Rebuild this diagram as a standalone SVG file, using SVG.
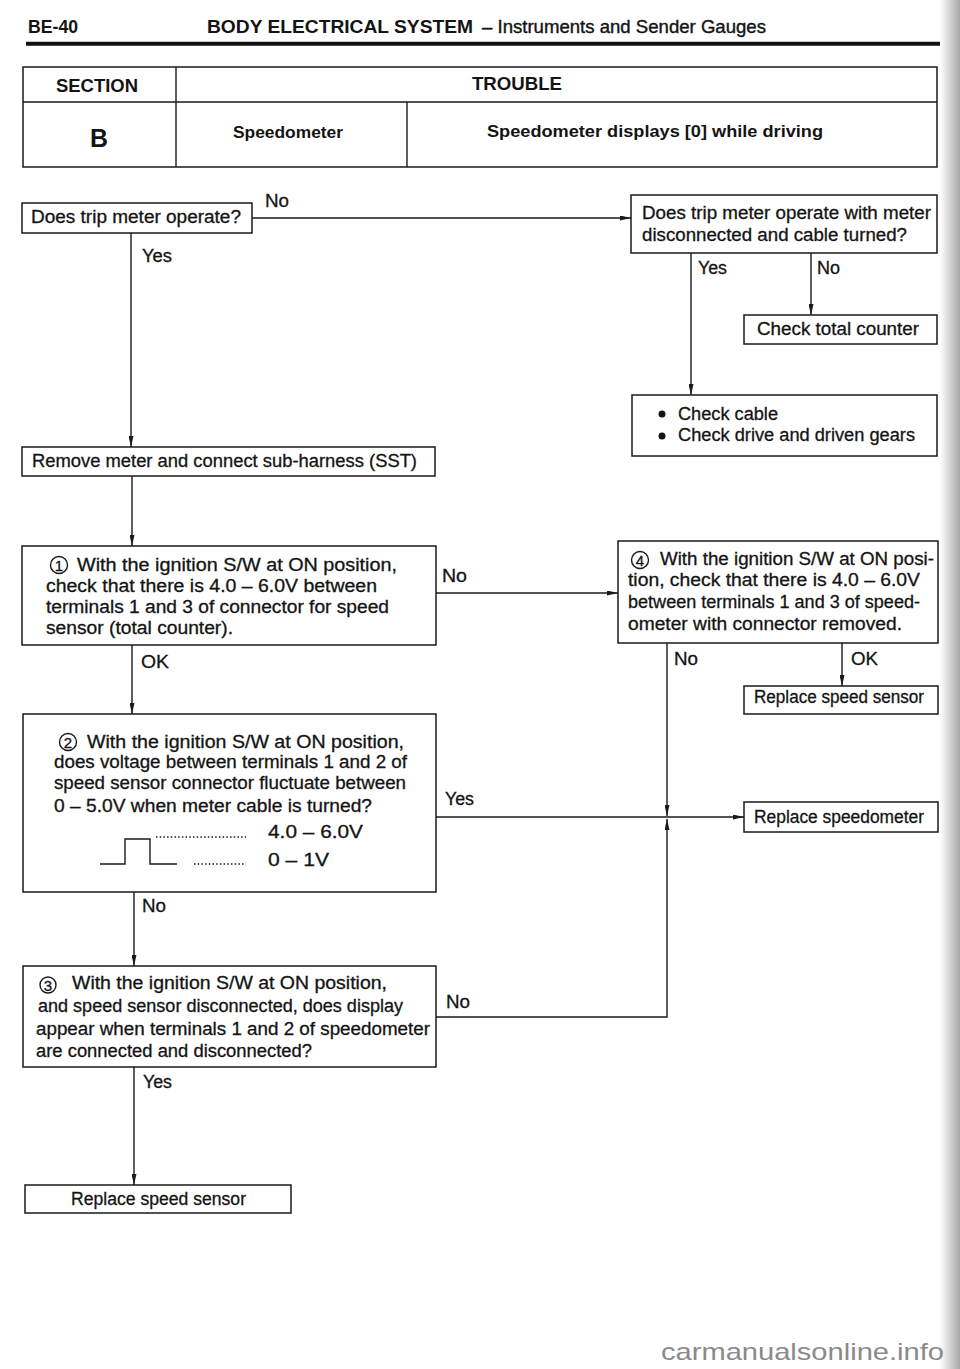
<svg xmlns="http://www.w3.org/2000/svg" width="960" height="1369" viewBox="0 0 960 1369">
<style>
text{font-family:"Liberation Sans",Arial,sans-serif;fill:#141414}
.b{font-size:18px;stroke:#141414;stroke-width:0.3}
.lb{font-size:18px;stroke:#141414;stroke-width:0.3}
.h{font-size:19px;font-weight:bold}
.t{font-size:16px;font-weight:bold}
.box{fill:#fff;stroke:#1a1a1a;stroke-width:1.5}
.cn{fill:none;stroke:#1a1a1a;stroke-width:1.4}
.circ{fill:none;stroke:#1a1a1a;stroke-width:1.4}
.num{font-size:15px;text-anchor:middle;stroke:#141414;stroke-width:0.3}
.dot{stroke:#1a1a1a;stroke-width:1.6;stroke-dasharray:1.5 2.2;fill:none}
</style>
<defs>
<marker id="ah" markerUnits="userSpaceOnUse" markerWidth="11" markerHeight="5" refX="11" refY="2.5" orient="auto">
<path d="M0,0 L11,2.5 L0,5 z" fill="#1a1a1a"/>
</marker>
<linearGradient id="edge" x1="0" y1="0" x2="1" y2="0">
<stop offset="0" stop-color="#ffffff"/>
<stop offset="1" stop-color="#a8a8a8"/>
</linearGradient>
</defs>
<rect x="0" y="0" width="960" height="1369" fill="#fff"/>
<rect x="940" y="0" width="20" height="1369" fill="url(#edge)"/>

<g id="header">
<text class="h" x="28" y="33" textLength="50" lengthAdjust="spacingAndGlyphs">BE-40</text>
<text class="h" x="207" y="33" textLength="266" lengthAdjust="spacingAndGlyphs">BODY ELECTRICAL SYSTEM</text>
<text x="482" y="33" style="font-size:19px;stroke:#141414;stroke-width:0.4" textLength="284" lengthAdjust="spacingAndGlyphs">– Instruments and Sender Gauges</text>
<line x1="26" y1="43.7" x2="940" y2="43.7" stroke="#111" stroke-width="4"/>
</g>

<g id="table">
<rect class="box" x="23" y="67" width="914" height="100"/>
<line class="cn" x1="23" y1="102" x2="937" y2="102"/>
<line class="cn" x1="176" y1="67" x2="176" y2="167"/>
<line class="cn" x1="407" y1="102" x2="407" y2="167"/>
<text class="h" x="56" y="92" textLength="82" lengthAdjust="spacingAndGlyphs">SECTION</text>
<text class="h" x="472" y="90" textLength="90" lengthAdjust="spacingAndGlyphs">TROUBLE</text>
<text x="90" y="147" style="font-size:26px;font-weight:bold" textLength="18" lengthAdjust="spacingAndGlyphs">B</text>
<text class="t" x="233" y="138" textLength="110" lengthAdjust="spacingAndGlyphs">Speedometer</text>
<text class="t" x="487" y="137" textLength="336" lengthAdjust="spacingAndGlyphs">Speedometer  displays [0]  while driving</text>
</g>

<g id="connectors">
<line class="cn" x1="252" y1="218" x2="631" y2="218" marker-end="url(#ah)"/>
<line class="cn" x1="131" y1="233" x2="131" y2="447" marker-end="url(#ah)"/>
<line class="cn" x1="691" y1="253" x2="691" y2="395" marker-end="url(#ah)"/>
<line class="cn" x1="811" y1="253" x2="811" y2="315" marker-end="url(#ah)"/>
<line class="cn" x1="132" y1="476" x2="132" y2="546" marker-end="url(#ah)"/>
<line class="cn" x1="436" y1="593" x2="618" y2="593" marker-end="url(#ah)"/>
<line class="cn" x1="132" y1="645" x2="132" y2="714" marker-end="url(#ah)"/>
<line class="cn" x1="842" y1="643" x2="842" y2="686" marker-end="url(#ah)"/>
<line class="cn" x1="436" y1="817" x2="744" y2="817" marker-end="url(#ah)"/>
<line class="cn" x1="667" y1="643" x2="667" y2="816" marker-end="url(#ah)"/>
<polyline class="cn" points="436,1017 667,1017 667,819" marker-end="url(#ah)"/>
<line class="cn" x1="134" y1="892" x2="134" y2="966" marker-end="url(#ah)"/>
<line class="cn" x1="134" y1="1067" x2="134" y2="1185" marker-end="url(#ah)"/>
<text class="lb" x="265" y="207" textLength="24" lengthAdjust="spacingAndGlyphs">No</text>
<text class="lb" x="142" y="262" textLength="30" lengthAdjust="spacingAndGlyphs">Yes</text>
<text class="lb" x="698" y="274" textLength="29" lengthAdjust="spacingAndGlyphs">Yes</text>
<text class="lb" x="817" y="274" textLength="23" lengthAdjust="spacingAndGlyphs">No</text>
<text class="lb" x="442" y="582" textLength="25" lengthAdjust="spacingAndGlyphs">No</text>
<text class="lb" x="141" y="668" textLength="28" lengthAdjust="spacingAndGlyphs">OK</text>
<text class="lb" x="674" y="665" textLength="24" lengthAdjust="spacingAndGlyphs">No</text>
<text class="lb" x="851" y="665" textLength="27" lengthAdjust="spacingAndGlyphs">OK</text>
<text class="lb" x="445" y="805" textLength="29" lengthAdjust="spacingAndGlyphs">Yes</text>
<text class="lb" x="142" y="912" textLength="24" lengthAdjust="spacingAndGlyphs">No</text>
<text class="lb" x="446" y="1008" textLength="24" lengthAdjust="spacingAndGlyphs">No</text>
<text class="lb" x="143" y="1088" textLength="29" lengthAdjust="spacingAndGlyphs">Yes</text>
</g>

<g id="n-trip">
<rect class="box" x="22" y="203" width="230" height="30"/>
<text class="b" x="31" y="223" textLength="210" lengthAdjust="spacingAndGlyphs">Does trip meter operate?</text>
</g>

<g id="n-trip-cable">
<rect class="box" x="631" y="195" width="306" height="58"/>
<text class="b" x="642" y="219" textLength="289" lengthAdjust="spacingAndGlyphs">Does trip meter operate with meter</text>
<text class="b" x="642" y="241" textLength="265" lengthAdjust="spacingAndGlyphs">disconnected and cable turned?</text>
</g>

<g id="n-total">
<rect class="box" x="744" y="315" width="193" height="29"/>
<text class="b" x="757" y="335" textLength="162" lengthAdjust="spacingAndGlyphs">Check total counter</text>
</g>

<g id="n-cable">
<rect class="box" x="632" y="395" width="305" height="61"/>
<circle cx="662" cy="414" r="3.5" fill="#141414"/>
<circle cx="662" cy="436" r="3.5" fill="#141414"/>
<text class="b" x="678" y="420" textLength="100" lengthAdjust="spacingAndGlyphs">Check cable</text>
<text class="b" x="678" y="441" textLength="237" lengthAdjust="spacingAndGlyphs">Check drive and driven gears</text>
</g>

<g id="n-remove">
<rect class="box" x="22" y="447" width="413" height="29"/>
<text class="b" x="32" y="467" textLength="385" lengthAdjust="spacingAndGlyphs">Remove meter and connect sub-harness (SST)</text>
</g>

<g id="n-step1">
<rect class="box" x="22" y="546" width="414" height="99"/>
<circle class="circ" cx="59" cy="565" r="8.5"/>
<text class="num" x="59" y="570.5">1</text>
<text class="b" x="77" y="571" textLength="320" lengthAdjust="spacingAndGlyphs">With the ignition S/W at ON position,</text>
<text class="b" x="46" y="592" textLength="331" lengthAdjust="spacingAndGlyphs">check that there is 4.0 – 6.0V between</text>
<text class="b" x="46" y="613" textLength="343" lengthAdjust="spacingAndGlyphs">terminals 1 and 3 of connector for speed</text>
<text class="b" x="46" y="634" textLength="187" lengthAdjust="spacingAndGlyphs">sensor (total counter).</text>
</g>

<g id="n-step4">
<rect class="box" x="618" y="541" width="320" height="102"/>
<circle class="circ" cx="640" cy="560" r="8.5"/>
<text class="num" x="640" y="565.5">4</text>
<text class="b" x="660" y="565" textLength="274" lengthAdjust="spacingAndGlyphs">With the ignition S/W at ON posi-</text>
<text class="b" x="628" y="586" textLength="292" lengthAdjust="spacingAndGlyphs">tion, check that there is 4.0 – 6.0V</text>
<text class="b" x="628" y="608" textLength="292" lengthAdjust="spacingAndGlyphs">between terminals 1 and 3 of speed-</text>
<text class="b" x="628" y="630" textLength="274" lengthAdjust="spacingAndGlyphs">ometer with connector removed.</text>
</g>

<g id="n-replace-sensor-1">
<rect class="box" x="744" y="686" width="194" height="28"/>
<text class="b" x="754" y="703" textLength="170" lengthAdjust="spacingAndGlyphs">Replace speed sensor</text>
</g>

<g id="n-step2">
<rect class="box" x="23" y="714" width="413" height="178"/>
<circle class="circ" cx="68" cy="742" r="8.5"/>
<text class="num" x="68" y="747.5">2</text>
<text class="b" x="87" y="748" textLength="317" lengthAdjust="spacingAndGlyphs">With the ignition S/W at ON position,</text>
<text class="b" x="54" y="768" textLength="353" lengthAdjust="spacingAndGlyphs">does voltage between terminals 1 and 2 of</text>
<text class="b" x="54" y="789" textLength="352" lengthAdjust="spacingAndGlyphs">speed sensor connector fluctuate between</text>
<text class="b" x="54" y="812" textLength="318" lengthAdjust="spacingAndGlyphs">0 – 5.0V when meter cable is turned?</text>
<polyline class="cn" points="100,864 125,864 125,839 150,839 150,864 177,864" stroke-width="1.3"/>
<line class="dot" x1="156" y1="837" x2="246" y2="837"/>
<line class="dot" x1="194" y1="864" x2="246" y2="864"/>
<text class="b" x="268" y="838" textLength="95" lengthAdjust="spacingAndGlyphs">4.0 – 6.0V</text>
<text class="b" x="268" y="866" textLength="61" lengthAdjust="spacingAndGlyphs">0 – 1V</text>
</g>

<g id="n-replace-speedometer">
<rect class="box" x="744" y="802" width="194" height="30"/>
<text class="b" x="754" y="823" textLength="170" lengthAdjust="spacingAndGlyphs">Replace speedometer</text>
</g>

<g id="n-step3">
<rect class="box" x="23" y="966" width="413" height="101"/>
<circle class="circ" cx="48" cy="985" r="8"/>
<text class="num" x="48" y="990.5">3</text>
<text class="b" x="72" y="989" textLength="315" lengthAdjust="spacingAndGlyphs">With the ignition S/W at ON position,</text>
<text class="b" x="38" y="1012" textLength="365" lengthAdjust="spacingAndGlyphs">and speed sensor disconnected, does display</text>
<text class="b" x="36" y="1035" textLength="394" lengthAdjust="spacingAndGlyphs">appear when terminals 1 and 2 of speedometer</text>
<text class="b" x="36" y="1057" textLength="276" lengthAdjust="spacingAndGlyphs">are connected and disconnected?</text>
</g>

<g id="n-replace-sensor-2">
<rect class="box" x="25" y="1185" width="266" height="28"/>
<text class="b" x="71" y="1205" textLength="175" lengthAdjust="spacingAndGlyphs">Replace speed sensor</text>
</g>

<text x="661" y="1360" style="font-size:24px;fill:#8a8a8a" textLength="283" lengthAdjust="spacingAndGlyphs">carmanualsonline.info</text>
</svg>
